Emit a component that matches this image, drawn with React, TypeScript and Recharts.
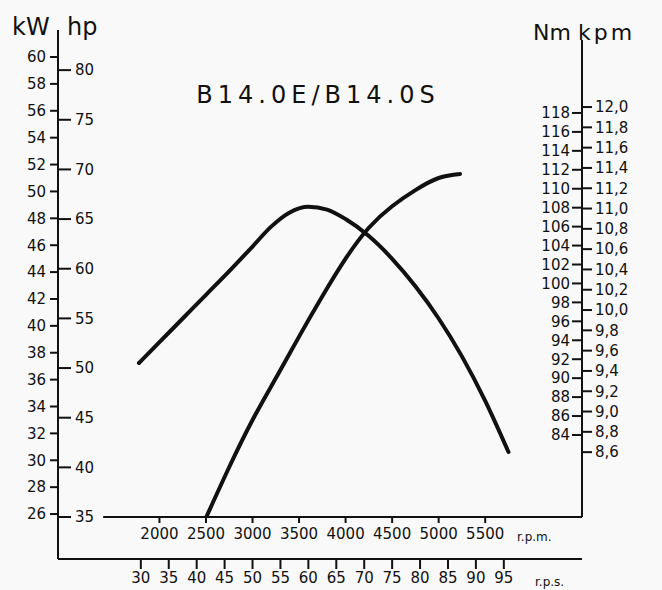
import { ComposedChart, Line, XAxis, YAxis, ReferenceLine } from "recharts";

// torque curve (Nm, right scale)
const torqueRpm = [1780, 2000, 2250, 2500, 2750, 3000, 3200, 3400, 3600, 3800, 4000, 4250, 4500, 4750, 5000, 5250, 5500, 5750];
const torqueNm = [91.6, 93.8, 96.3, 98.8, 101.3, 103.9, 106.0, 107.5, 108.1, 107.8, 106.8, 105.0, 102.6, 99.7, 96.3, 92.3, 87.6, 82.2];

// power curve (kW, left scale)
const powerRpm = [2505, 2750, 3000, 3250, 3500, 3750, 4000, 4250, 4500, 4750, 5000, 5230];
const powerKw = [25.8, 29.5, 33.0, 36.1, 39.2, 42.2, 45.0, 47.3, 48.9, 50.1, 51.0, 51.3];

const kwTicks = [26, 28, 30, 32, 34, 36, 38, 40, 42, 44, 46, 48, 50, 52, 54, 56, 58, 60];
const hpTicks = [35, 40, 45, 50, 55, 60, 65, 70, 75, 80];
const nmTicks = [84, 86, 88, 90, 92, 94, 96, 98, 100, 102, 104, 106, 108, 110, 112, 114, 116, 118];
const kpmTicks = [8.6, 8.8, 9.0, 9.2, 9.4, 9.6, 9.8, 10.0, 10.2, 10.4, 10.6, 10.8, 11.0, 11.2, 11.4, 11.6, 11.8, 12.0];
const rpmTicks = [2000, 2500, 3000, 3500, 4000, 4500, 5000, 5500];
const rpsTicks = [30, 35, 40, 45, 50, 55, 60, 65, 70, 75, 80, 85, 90, 95];

const torqueData = torqueRpm.map((r, i) => ({ rpm: r, rps: r / 60, nm: torqueNm[i] }));
const powerData = powerRpm.map((r, i) => ({ rpm: r, rps: r / 60, kw: powerKw[i] }));

const INK = "#111";
const FONT = "DejaVu Sans";
const tickStyle = { fill: INK, fontSize: 15, fontFamily: FONT };
const lineStyle = { stroke: INK, strokeWidth: 2 };

export default function App() {
  return (
    <div style={{ position: "absolute", left: 0, top: 0, width: 662, height: 590, background: "#f9f9f9" }}>
      <ComposedChart width={662} height={590} margin={{ top: 30, right: 0, bottom: 0, left: 0 }}>
        <XAxis
          xAxisId="rpm"
          dataKey="rpm"
          type="number"
          domain={[910, 6540]}
          allowDataOverflow
          ticks={rpmTicks}
          interval={0}
          height={42}
          axisLine={false}
          tickSize={6}
          tickMargin={5}
          tickLine={lineStyle}
          tick={tickStyle}
        />
        <XAxis
          xAxisId="rps"
          dataKey="rps"
          type="number"
          domain={[910 / 60, 6540 / 60]}
          allowDataOverflow
          ticks={rpsTicks}
          interval={0}
          height={31}
          axisLine={lineStyle}
          tickSize={10}
          tickMargin={3}
          tickLine={lineStyle}
          tick={tickStyle}
        />
        <YAxis
          yAxisId="kw"
          orientation="left"
          type="number"
          domain={[25.78, 62.01]}
          allowDataOverflow
          ticks={kwTicks}
          interval={0}
          width={58}
          axisLine={lineStyle}
          tickSize={8}
          tickMargin={4}
          tickLine={lineStyle}
          tick={tickStyle}
        />
        <YAxis
          yAxisId="hp"
          orientation="left"
          mirror
          type="number"
          domain={[35, 84.04]}
          allowDataOverflow
          ticks={hpTicks}
          interval={0}
          axisLine={false}
          tickSize={13}
          tickMargin={4}
          tickLine={lineStyle}
          tick={tickStyle}
        />
        <YAxis
          yAxisId="nm"
          orientation="right"
          mirror
          type="number"
          domain={[75.34, 126.76]}
          allowDataOverflow
          ticks={nmTicks}
          interval={0}
          axisLine={false}
          tickSize={10}
          tickMargin={2}
          tickLine={lineStyle}
          tick={tickStyle}
        />
        <YAxis
          yAxisId="kpm"
          orientation="right"
          type="number"
          domain={[7.961, 12.759]}
          allowDataOverflow
          ticks={kpmTicks}
          interval={0}
          width={80}
          axisLine={false}
          tickSize={10}
          tickMargin={3}
          tickLine={lineStyle}
          tick={tickStyle}
          tickFormatter={(v: number) => v.toFixed(1).replace(".", ",")}
        />
        {/* rpm base line, left axis extension, right axis line */}
        <ReferenceLine
          xAxisId="rpm"
          yAxisId="hp"
          segment={[{ x: 1395, y: 35 }, { x: 6540, y: 35 }]}
          stroke={INK}
          strokeWidth={2}
        />
        <ReferenceLine
          xAxisId="rpm"
          yAxisId="hp"
          segment={[{ x: 910, y: 35 }, { x: 910, y: 30.77 }]}
          ifOverflow="visible"
          stroke={INK}
          strokeWidth={2}
        />
        <ReferenceLine
          xAxisId="rpm"
          yAxisId="nm"
          segment={[{ x: 6540, y: 125.7 }, { x: 6540, y: 75.34 }]}
          stroke={INK}
          strokeWidth={2}
        />
        <Line
          xAxisId="rpm"
          yAxisId="nm"
          data={torqueData}
          dataKey="nm"
          type="monotone"
          stroke={INK}
          strokeWidth={4}
          strokeLinecap="round"
          dot={false}
          isAnimationActive={false}
        />
        <Line
          xAxisId="rpm"
          yAxisId="kw"
          data={powerData}
          dataKey="kw"
          type="natural"
          stroke={INK}
          strokeWidth={4}
          strokeLinecap="round"
          dot={false}
          isAnimationActive={false}
        />
      </ComposedChart>
      <svg
        width={662}
        height={590}
        style={{ position: "absolute", left: 0, top: 0, pointerEvents: "none" }}
        fontFamily={FONT}
        fill={INK}
      >
        <text x={12} y={35} fontSize={24}>kW</text>
        <text x={67} y={35} fontSize={24}>hp</text>
        <text x={533} y={40} fontSize={22}>Nm</text>
        <text x={578} y={40} fontSize={22} letterSpacing={3}>kpm</text>
        <text x={318} y={103} fontSize={24} textAnchor="middle" letterSpacing={5}>B14.0E/B14.0S</text>
        <text x={517} y={541} fontSize={12}>r.p.m.</text>
        <text x={535} y={586} fontSize={12}>r.p.s.</text>
      </svg>
    </div>
  );
}
